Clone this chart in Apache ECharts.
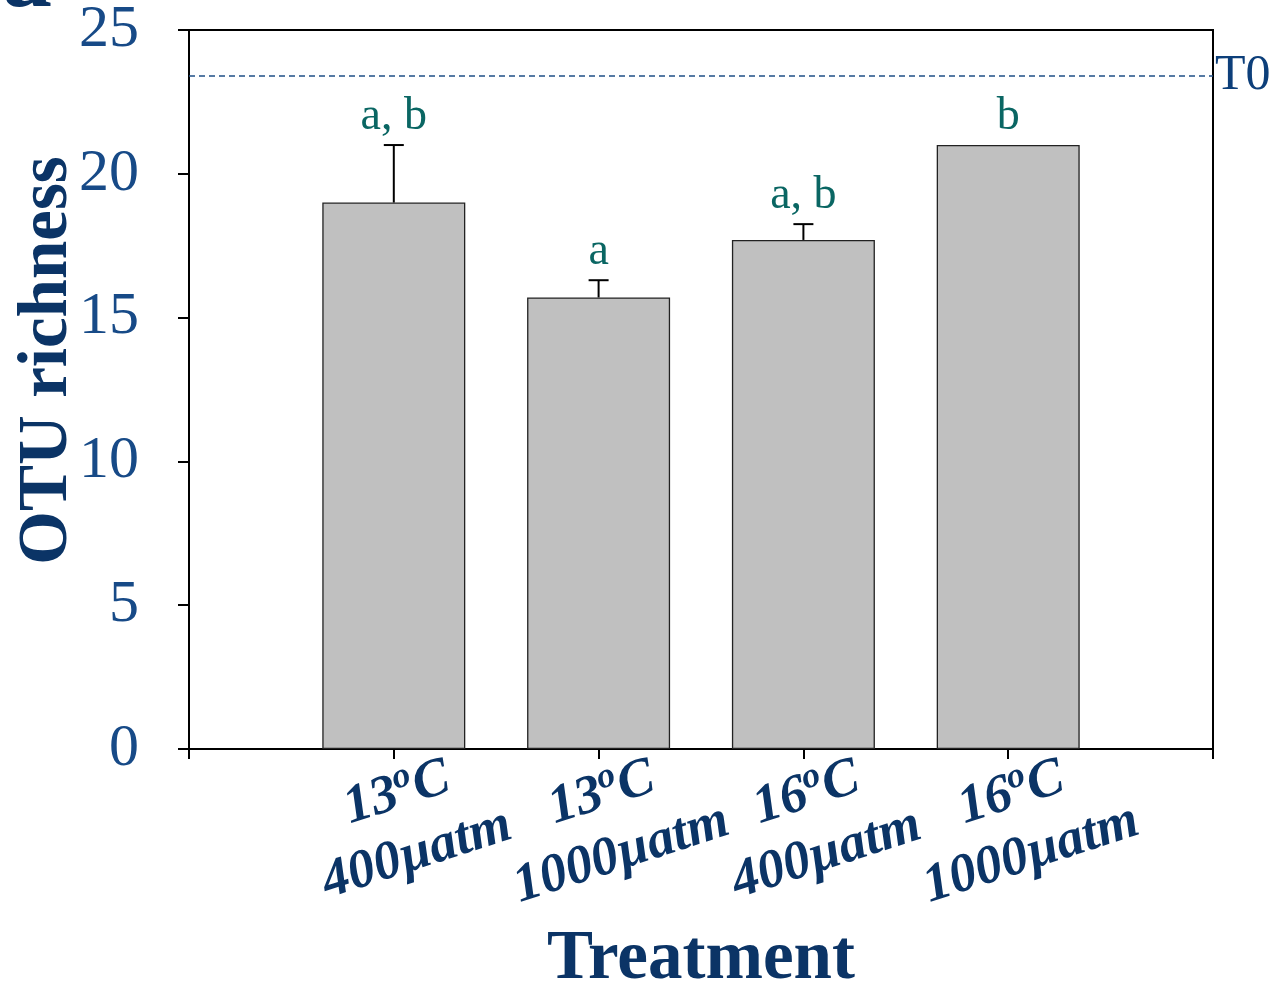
<!DOCTYPE html>
<html>
<head>
<meta charset="utf-8">
<script src="https://cdn.jsdelivr.net/npm/echarts@6/dist/echarts.min.js"></script>
<style>html,body{margin:0;padding:0;background:#fff}#c{width:1276px;height:983px}</style>
</head>
<body>
<div id="c"></div>
<script>
var tempLabels = ['13', '13', '16', '16'];
var co2Labels = ['400\u00b5atm', '1000\u00b5atm', '400\u00b5atm', '1000\u00b5atm'];
var means = [19.0, 15.7, 17.7, 21.0];
var errors = [2.0, 0.6, 0.55, 0];
var letters = ['a, b', 'a', 'a, b', 'b'];
var t0Value = 23.4;
var yTicks = [0, 5, 10, 15, 20, 25];

var serif = '"Liberation Serif", "DejaVu Serif", serif';
var n = means.length;
var axisCats = [''];
for (var i = 0; i < n; i++) axisCats.push(tempLabels[i] + '|' + co2Labels[i]);
axisCats.push('');
var barData = [null].concat(means).concat([null]);
var errData = [];
for (var i = 0; i < n; i++) errData.push([i + 1, means[i], errors[i], letters[i]]);

var chart = echarts.init(document.getElementById('c'));
chart.setOption({
  animation: false,
  backgroundColor: '#fff',
  grid: { left: 189, right: 63, top: 30, bottom: 234, show: true, borderColor: '#000', borderWidth: 2, backgroundColor: 'transparent', containLabel: false, outerBoundsMode: 'none' },
  xAxis: {
    type: 'category',
    data: axisCats,
    boundaryGap: false,
    name: 'Treatment',
    nameLocation: 'middle',
    nameGap: 177,
    nameMoveOverlap: false,
    nameTextStyle: { fontFamily: serif, fontWeight: 'bold', fontSize: 69, color: '#0b3466' },
    axisLine: { lineStyle: { color: '#000', width: 2 } },
    axisTick: { show: true, length: 10, lineStyle: { color: '#000', width: 2 } },
    axisLabel: {
      interval: 0,
      rotate: 18,
      margin: 12,
      align: 'center',
      verticalAlign: 'top',
      padding: [0, 14, 0, 0],
      fontFamily: serif,
      fontWeight: 'bold',
      fontStyle: 'italic',
      fontSize: 54,
      lineHeight: 64,
      color: '#0b3466',
      formatter: function (v) {
        if (!v) return '';
        var p = v.split('|');
        return '{t|' + p[0] + '}{sup|o}{t|C}\n{t|' + p[1] + '}';
      },
      rich: {
        t: { fontFamily: serif, fontWeight: 'bold', fontStyle: 'italic', fontSize: 54, lineHeight: 64, color: '#0b3466' },
        sup: { fontFamily: serif, fontWeight: 'bold', fontStyle: 'italic', fontSize: 36, lineHeight: 64, verticalAlign: 'top', padding: [0, 0, 18, 0], color: '#0b3466' }
      }
    },
    splitLine: { show: false }
  },
  yAxis: {
    type: 'value',
    min: 0, max: 25, interval: 5,
    name: 'OTU richness',
    nameLocation: 'middle',
    nameGap: 106,
    nameMoveOverlap: false,
    nameTextStyle: { fontFamily: serif, fontWeight: 'bold', fontSize: 69, color: '#0b3466', padding: [0, 0, 0, 58] },
    axisLine: { show: true, lineStyle: { color: '#000', width: 2 } },
    axisTick: { show: true, length: 11, lineStyle: { color: '#000', width: 2 } },
    axisLabel: {
      margin: 50,
      fontFamily: serif, fontSize: 60, color: '#174a87',
      formatter: function (v) { return yTicks.indexOf(v) >= 0 ? String(v) : ''; }
    },
    splitLine: { show: false }
  },
  series: [
    {
      type: 'bar',
      data: barData,
      barWidth: 143,
      itemStyle: { color: '#c0c0c0', borderColor: '#222', borderWidth: 1.3 },
      markLine: {
        silent: true,
        symbol: 'none',
        data: [{ yAxis: t0Value }],
        lineStyle: { color: '#1f4f86', type: [6, 4], width: 1.5 },
        label: { show: true, position: 'end', formatter: 'T0', distance: 2, fontFamily: serif, fontSize: 50, color: '#0d3f7a' }
      }
    },
    {
      type: 'custom',
      data: errData,
      z: 5,
      renderItem: function (params, api) {
        var x = api.value(0), m = api.value(1), e = api.value(2), lab = api.value(3);
        var base = api.coord([x, m]);
        var top = api.coord([x, m + e]);
        var children = [];
        if (e > 0) {
          children.push({ type: 'line', shape: { x1: base[0], y1: base[1], x2: top[0], y2: top[1] }, style: { stroke: '#000', lineWidth: 2 } });
          children.push({ type: 'line', shape: { x1: top[0] - 10, y1: top[1], x2: top[0] + 10, y2: top[1] }, style: { stroke: '#000', lineWidth: 2 } });
        }
        children.push({ type: 'text', x: top[0], y: top[1] - 5, style: { text: lab, textAlign: 'center', textVerticalAlign: 'bottom', fontFamily: serif, fontSize: 46, fill: '#0a6663' } });
        return { type: 'group', children: children };
      }
    }
  ],
  graphic: [
    { type: 'text', x: 2, y: 30, style: { text: 'a', textAlign: 'left', textVerticalAlign: 'bottom', fontFamily: serif, fontWeight: 'bold', fontSize: 100, fill: '#0b3466' } }
  ]
});
</script>
</body>
</html>
